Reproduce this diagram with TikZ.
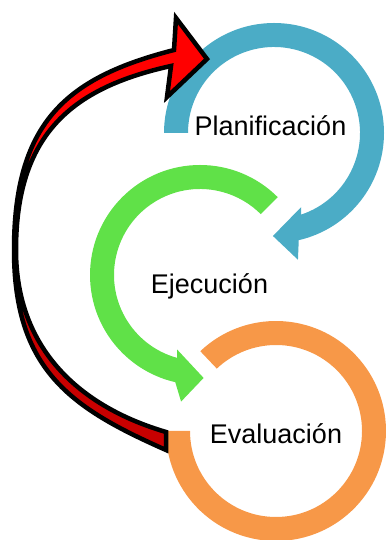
\documentclass[tikz,border=0pt]{standalone}
\usepackage{fontspec}
\setmainfont{Liberation Sans}
\definecolor{ringblue}{RGB}{75,172,198}
\definecolor{ringgreen}{RGB}{96,225,72}
\definecolor{ringorange}{RGB}{247,152,72}
\definecolor{arrowred}{RGB}{255,0,0}
\definecolor{arrowdark}{RGB}{200,0,0}
\newcommand\redbandpath{(176,522) -- (207,481) -- (167,443) -- (171,474)
  .. controls (71,452) and (16,405) .. (16,290)
  .. controls (16,190) and (81,133) .. (166,108)
  -- (166,90)
  .. controls (71,132) and (14,170) .. (14,290)
  .. controls (14,420) and (69,463) .. (174,490)
  -- cycle}
\begin{document}
\begin{tikzpicture}[x=1pt,y=1pt,
  ringtext/.style={font=\fontsize{27}{32}\selectfont, inner sep=0pt, anchor=base},
  bigarrow/.style={draw=black, line width=4.5pt, line join=miter}]
\useasboundingbox (0,0) rectangle (386,540);
\coordinate (cb) at (274,407);
\coordinate (cg) at (200,265);
\coordinate (co) at (276,109);
% blue ring (Planificacion)
\fill[ringblue, shift={(cb)}] (180:110pt) arc[start angle=180,end angle=-77,radius=110pt]
  -- (-79.3:129pt) -- (-90.6:103pt) -- (-70:79pt) -- (-71.6:86pt)
  arc[start angle=-71.6,end angle=180,radius=86pt] -- cycle;
% green ring (Ejecucion)
\fill[ringgreen, shift={(cg)}] (45:110pt) arc[start angle=45,end angle=257,radius=110pt]
  -- (261.5:128pt) -- (272:103pt) -- (253:78pt) -- (254.5:86pt)
  arc[start angle=254.5,end angle=45,radius=86pt] -- cycle;
% orange ring (Evaluacion)
\fill[ringorange, shift={(co)}] (133.5:110pt) arc[start angle=133.5,end angle=-180,radius=110pt]
  -- (-180:86pt) arc[start angle=-180,end angle=133.5,radius=86pt] -- cycle;
% texts
\node[ringtext] (plan) at (270.5,404) {Planificación};
\node[ringtext] (ejec) at (209.5,246) {Ejecución};
\node[ringtext] (eval) at (276,96) {Evaluación};
% red curved arrow: dark back face, bright front face, black outline
\fill[arrowdark] \redbandpath;
\begin{scope}
  \clip (0,290) rectangle (386,540);
  \fill[arrowred] \redbandpath;
\end{scope}
\draw[bigarrow] \redbandpath;
\end{tikzpicture}
\end{document}
